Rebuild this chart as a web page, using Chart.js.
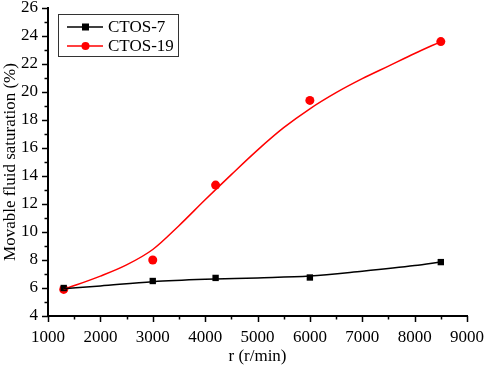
<!DOCTYPE html>
<html>
<head>
<meta charset="utf-8">
<script src="https://cdn.jsdelivr.net/npm/chart.js@4"></script>
<style>
  html, body { margin: 0; padding: 0; background: #fff; }
  #wrap { width: 484px; height: 371px; }
</style>
</head>
<body>
<div id="wrap"><canvas id="chart" width="484" height="371"></canvas></div>
<script>
// measured points
const speeds = [1300, 3000, 4200, 6000, 8500];
const ctos7 = [6.0, 6.5, 6.72, 6.75, 7.85];
const ctos19 = [5.9, 8.0, 13.35, 19.4, 23.6];

// fitted curves
const fitX7 = [1300, 2000, 3000, 4000, 5000, 6000, 7000, 8000, 8500];
const fitY7 = [5.95, 6.15, 6.45, 6.62, 6.72, 6.85, 7.2, 7.6, 7.85];
const fitX19 = [1300, 2000, 2500, 3000, 3500, 4000, 4500, 5000, 5500, 6000, 6500, 7000, 7500, 8000, 8500];
const fitY19 = [5.9, 6.85, 7.65, 8.75, 10.45, 12.3, 14.1, 15.85, 17.45, 18.8, 19.95, 20.95, 21.85, 22.75, 23.6];

const serif = 'Liberation Serif';

const toXY = (xs, ys) => xs.map((x, i) => ({ x: x, y: ys[i] }));

// outward ticks, major + minor
const ticksPlugin = {
  id: 'outTicks',
  afterDraw(chart) {
    const c = chart.ctx;
    const xs = chart.scales.x, ys = chart.scales.y;
    c.save();
    c.strokeStyle = '#000';
    c.lineWidth = 1.5;
    for (let v = 1000; v <= 9000; v += 500) {
      const px = Math.round(xs.getPixelForValue(v)) + 0.5;
      const len = v % 1000 === 0 ? 6 : 3.5;
      c.beginPath();
      c.moveTo(px, xs.top);
      c.lineTo(px, xs.top + len);
      c.stroke();
    }
    for (let v = 4; v <= 26; v += 1) {
      const py = Math.round(ys.getPixelForValue(v)) + 0.5;
      const len = v % 2 === 0 ? 6 : 3.5;
      c.beginPath();
      c.moveTo(ys.right, py);
      c.lineTo(ys.right - len, py);
      c.stroke();
    }
    c.restore();
  }
};

// boxed legend inside the plot
const legendPlugin = {
  id: 'boxLegend',
  afterDraw(chart) {
    const c = chart.ctx;
    const x0 = 58, y0 = 14, w = 120, h = 42;
    c.save();
    c.strokeStyle = '#333';
    c.lineWidth = 1;
    c.strokeRect(x0 + 0.5, y0 + 0.5, w, h);
    const rows = [
      { label: 'CTOS-7', color: '#000', shape: 'rect', y: y0 + 13 },
      { label: 'CTOS-19', color: '#ff0000', shape: 'circle', y: y0 + 32 }
    ];
    rows.forEach(r => {
      c.strokeStyle = r.color;
      c.fillStyle = r.color;
      c.lineWidth = 1.5;
      c.beginPath();
      c.moveTo(x0 + 9, r.y);
      c.lineTo(x0 + 45, r.y);
      c.stroke();
      if (r.shape === 'rect') {
        c.fillRect(x0 + 24, r.y - 3.5, 7, 7);
      } else {
        c.beginPath();
        c.arc(x0 + 27.5, r.y, 4, 0, Math.PI * 2);
        c.fill();
      }
      c.fillStyle = '#000';
      c.font = '17px "' + serif + '"';
      c.textBaseline = 'middle';
      c.fillText(r.label, x0 + 50, r.y + 1);
    });
    c.restore();
  }
};

new Chart(document.getElementById('chart'), {
  type: 'scatter',
  data: {
    datasets: [
      {
        label: 'CTOS-7 fit',
        type: 'line',
        data: toXY(fitX7, fitY7),
        borderColor: '#000',
        borderWidth: 1.5,
        pointRadius: 0,
        cubicInterpolationMode: 'monotone',
        fill: false
      },
      {
        label: 'CTOS-19 fit',
        type: 'line',
        data: toXY(fitX19, fitY19),
        borderColor: '#ff0000',
        borderWidth: 1.5,
        pointRadius: 0,
        cubicInterpolationMode: 'monotone',
        fill: false
      },
      {
        label: 'CTOS-7',
        data: toXY(speeds, ctos7),
        pointStyle: 'rect',
        pointRadius: 4.5,
        backgroundColor: '#000',
        borderColor: '#000',
        borderWidth: 0
      },
      {
        label: 'CTOS-19',
        data: toXY(speeds, ctos19),
        pointStyle: 'circle',
        pointRadius: 4.5,
        backgroundColor: '#ff0000',
        borderColor: '#ff0000',
        borderWidth: 0
      }
    ]
  },
  options: {
    responsive: false,
    animation: false,
    layout: { autoPadding: false, padding: 0 },
    plugins: {
      legend: { display: false },
      tooltip: { enabled: false }
    },
    scales: {
      x: {
        type: 'linear',
        min: 1000,
        max: 9000,
        border: { color: '#000', width: 2 },
        grid: { display: false, drawTicks: false },
        ticks: {
          stepSize: 1000,
          color: '#000',
          padding: 11,
          maxRotation: 0,
          font: { family: serif, size: 17 },
          callback: (v) => String(v)
        },
        title: {
          display: true,
          text: 'r (r/min)',
          color: '#000',
          font: { family: serif, size: 17 },
          padding: { top: 6, bottom: 4 }
        },
        afterFit: (s) => {
          s.height = 55;
          s.paddingLeft = 0;
          s.paddingRight = 17;
        }
      },
      y: {
        min: 4,
        max: 26,
        border: { color: '#000', width: 2 },
        grid: { display: false, drawTicks: false },
        ticks: {
          stepSize: 2,
          color: '#000',
          padding: 10,
          font: { family: serif, size: 17 }
        },
        title: {
          display: true,
          text: 'Movable fluid saturation (%)',
          color: '#000',
          font: { family: serif, size: 17 },
          padding: { top: 0, bottom: 1 }
        },
        afterFit: (s) => {
          s.width = 48;
          s.paddingTop = 8;
          s.paddingBottom = 0;
        }
      }
    }
  },
  plugins: [ticksPlugin, legendPlugin]
});
</script>
</body>
</html>
